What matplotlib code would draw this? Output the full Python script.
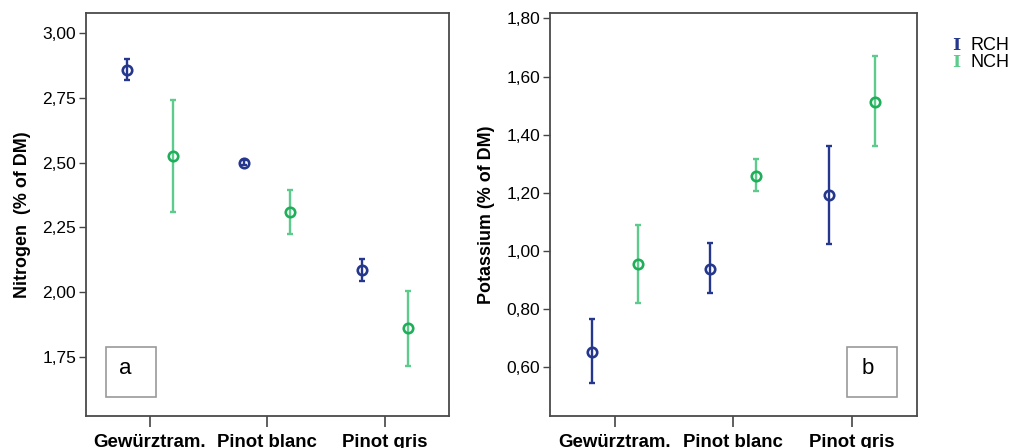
import matplotlib.pyplot as plt
from matplotlib.patches import Rectangle
import numpy as np

plt.rcParams['font.family'] = ['Liberation Sans', 'DejaVu Sans']

# categories and groups
cultivars = ['Gewürztram.', 'Pinot blanc', 'Pinot gris']
groups = ['RCH', 'NCH']

# Nitrogen (% of DM): mean, lower, upper
n_rch = [2.86, 2.50, 2.085]
n_rch_lo = [2.82, 2.49, 2.043]
n_rch_hi = [2.90, 2.51, 2.13]
n_nch = [2.526, 2.309, 1.86]
n_nch_lo = [2.311, 2.224, 1.716]
n_nch_hi = [2.742, 2.395, 2.006]

# Potassium (% of DM)
k_rch = [0.654, 0.94, 1.193]
k_rch_lo = [0.545, 0.857, 1.025]
k_rch_hi = [0.766, 1.027, 1.362]
k_nch = [0.955, 1.26, 1.514]
k_nch_lo = [0.823, 1.205, 1.362]
k_nch_hi = [1.09, 1.318, 1.671]

blue = '#24378d'
green = '#1fae5a'
green_bar = '#5ccb8b'
colors = [blue, green_bar]

fig = plt.figure(figsize=(10.11, 4.48), dpi=100)
ax1 = fig.add_axes([0.0848, 0.0721, 0.3597, 0.898])
ax2 = fig.add_axes([0.544, 0.0721, 0.3627, 0.899])

x = np.arange(len(cultivars))


def draw(ax, m1, lo1, hi1, m2, lo2, hi2):
    for m, lo, hi, off, col, bcol in [(m1, lo1, hi1, -0.195, blue, blue),
                                      (m2, lo2, hi2, 0.195, green, green_bar)]:
        m = np.array(m)
        yerr = [m - np.array(lo), np.array(hi) - m]
        ax.errorbar(x + off, m, yerr=yerr, fmt='none', ecolor=bcol,
                    elinewidth=1.7, capsize=2, capthick=1.7, zorder=2)
        ax.plot(x + off, m, 'o', ms=6.8, mfc='none', mec=col, mew=1.9, zorder=3)
    ax.set_xlim(-0.546, 2.549)
    ax.set_xticks(x)
    ax.set_xticklabels(cultivars, fontweight='bold', fontsize=13.4)
    ax.tick_params(axis='x', length=8, width=1.2, color='#444444', pad=5)
    ax.tick_params(axis='y', length=5, width=1, color='#444444', labelsize=12.5, pad=2)
    for s in ax.spines.values():
        s.set_color('#4a4a4a')
        s.set_linewidth(1.3)


draw(ax1, n_rch, n_rch_lo, n_rch_hi, n_nch, n_nch_lo, n_nch_hi)
ax1.set_ylim(1.523, 3.077)
ax1.set_yticks([1.75, 2.00, 2.25, 2.50, 2.75, 3.00])
ax1.set_yticklabels(['1,75', '2,00', '2,25', '2,50', '2,75', '3,00'])
ax1.set_ylabel('Nitrogen  (% of DM)', fontweight='bold', fontsize=12.9, labelpad=8)

draw(ax2, k_rch, k_rch_lo, k_rch_hi, k_nch, k_nch_lo, k_nch_hi)
ax2.set_ylim(0.434, 1.819)
ax2.set_yticks([0.6, 0.8, 1.0, 1.2, 1.4, 1.6, 1.8])
ax2.set_yticklabels(['0,60', '0,80', '1,00', '1,20', '1,40', '1,60', '1,80'])
ax2.set_ylabel('Potassium (% of DM)', fontweight='bold', fontsize=12.9, labelpad=8)

# panel letters in boxes
for ax, letter, x0, xt in [(ax1, 'a', 0.056, 0.108), (ax2, 'b', 0.811, 0.866)]:
    ax.add_patch(Rectangle((x0, 0.047), 0.136, 0.123, transform=ax.transAxes,
                           fill=False, ec='#9a9a9a', lw=1.2))
    ax.text(xt, 0.118, letter, transform=ax.transAxes,
            ha='center', va='center', fontsize=16)

# legend (drawn by hand to get the compact SPSS look)
for i, (g, c) in enumerate(zip(groups, colors)):
    yy = 1 - (45.5 + 17 * i) / 448
    fig.text(956 / 1011, yy, 'I', color=c, fontfamily='DejaVu Serif',
             fontweight='bold', fontsize=12.5, ha='center', va='center')
    fig.text(970 / 1011, yy, g, fontsize=13, ha='left', va='center')

fig.savefig('out.png', dpi=100)
